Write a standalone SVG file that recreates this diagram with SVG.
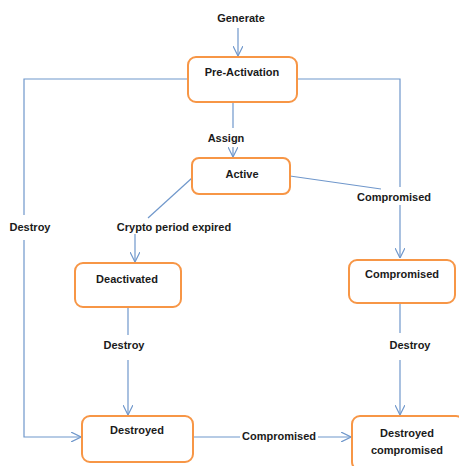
<svg xmlns="http://www.w3.org/2000/svg" width="459" height="466" viewBox="0 0 459 466">
<style>
.box{fill:#fff;stroke:#F79646;stroke-width:2}
.ln{fill:none;stroke:#6F97CB;stroke-width:1.2}
.t{font-family:"Liberation Sans",Arial,sans-serif;font-weight:bold;font-size:11px;fill:#1a1a1a;text-anchor:middle}
</style>
<defs>
<marker id="arr" viewBox="0 0 10 10" refX="10" refY="5" markerWidth="10" markerHeight="10" markerUnits="userSpaceOnUse" orient="auto">
<path d="M0,0 L10,5 L0,10" fill="none" stroke="#6F97CB" stroke-width="1.2"/>
</marker>
</defs>
<g id="connectors">
<line class="ln" x1="238" y1="28" x2="238" y2="56" marker-end="url(#arr)"/>
<polyline class="ln" points="188,79 24,79 24,215"/>
<polyline class="ln" points="24,240 24,437 81,437" marker-end="url(#arr)"/>
<polyline class="ln" points="297,79 400,79 400,187"/>
<line class="ln" x1="400" y1="205" x2="400" y2="258" marker-end="url(#arr)"/>
<line class="ln" x1="233" y1="102" x2="233" y2="128"/>
<line class="ln" x1="233" y1="147" x2="233" y2="157" marker-end="url(#arr)"/>
<line class="ln" x1="192" y1="178" x2="148" y2="218"/>
<line class="ln" x1="135" y1="234" x2="135" y2="262" marker-end="url(#arr)"/>
<line class="ln" x1="290" y1="176" x2="381" y2="189"/>
<line class="ln" x1="128" y1="307" x2="128" y2="335"/>
<line class="ln" x1="128" y1="360" x2="128" y2="415" marker-end="url(#arr)"/>
<line class="ln" x1="400" y1="303" x2="400" y2="333"/>
<line class="ln" x1="400" y1="360" x2="400" y2="415" marker-end="url(#arr)"/>
<line class="ln" x1="193" y1="437" x2="240" y2="437"/>
<line class="ln" x1="318" y1="437" x2="351" y2="437" marker-end="url(#arr)"/>
<text class="t" x="241" y="22">Generate</text>
<text class="t" x="226" y="142">Assign</text>
<text class="t" x="30" y="231">Destroy</text>
<text class="t" x="174" y="231">Crypto period expired</text>
<text class="t" x="394" y="201">Compromised</text>
<text class="t" x="124" y="349">Destroy</text>
<text class="t" x="410" y="349">Destroy</text>
<text class="t" x="279" y="440">Compromised</text>
</g>
<g id="pre-activation">
<rect class="box" x="188" y="57" width="109" height="45" rx="8"/>
<text class="t" x="242" y="76">Pre-Activation</text>
</g>
<g id="active">
<rect class="box" x="192" y="158" width="98" height="36" rx="7"/>
<text class="t" x="242" y="178">Active</text>
</g>
<g id="deactivated">
<rect class="box" x="75" y="263" width="106" height="44" rx="8"/>
<text class="t" x="127" y="283">Deactivated</text>
</g>
<g id="compromised">
<rect class="box" x="349" y="260" width="106" height="43" rx="8"/>
<text class="t" x="402" y="278">Compromised</text>
</g>
<g id="destroyed">
<rect class="box" x="82" y="416" width="111" height="46" rx="8"/>
<text class="t" x="137" y="434">Destroyed</text>
</g>
<g id="destroyed-compromised">
<rect class="box" x="352" y="416" width="112" height="54" rx="8"/>
<text class="t" x="407" y="437">Destroyed</text>
<text class="t" x="407" y="454">compromised</text>
</g>
</svg>
